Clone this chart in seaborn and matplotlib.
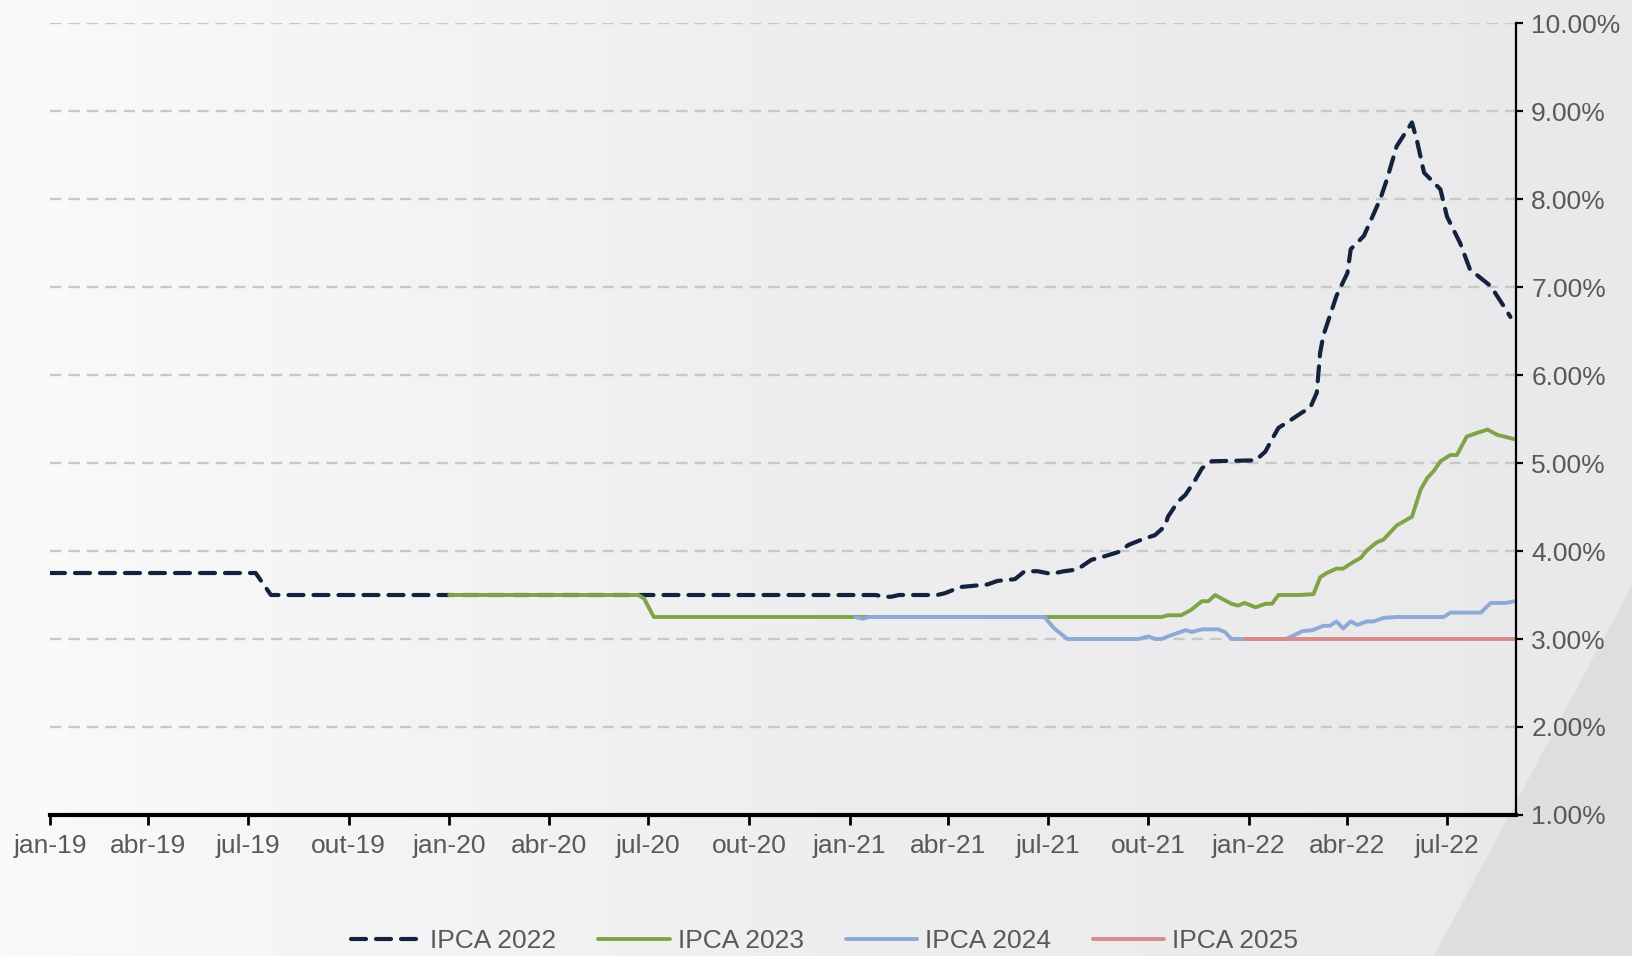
import matplotlib
matplotlib.use("Agg")
import matplotlib.pyplot as plt
from matplotlib.colors import LinearSegmentedColormap
from matplotlib.patches import Polygon
import numpy as np
import pandas as pd
import seaborn as sns

# expectativas Focus (mediana), leitura aproximada do grafico
dates_2022 = ["2019-01-01", "2019-07-08", "2019-07-22", "2021-01-25", "2021-02-01", "2021-02-08",
              "2021-02-15", "2021-03-22", "2021-03-29", "2021-04-12", "2021-05-07", "2021-05-16",
              "2021-06-01", "2021-06-10", "2021-06-22", "2021-07-04", "2021-07-16", "2021-07-28",
              "2021-08-10", "2021-08-22", "2021-09-04", "2021-09-13", "2021-09-25", "2021-10-07",
              "2021-10-16", "2021-10-19", "2021-10-28", "2021-11-04", "2021-11-13", "2021-11-19",
              "2021-11-28", "2022-01-07", "2022-01-16", "2022-01-22", "2022-01-28", "2022-02-06",
              "2022-02-18", "2022-02-26", "2022-03-04", "2022-03-07", "2022-03-10", "2022-03-22",
              "2022-04-01", "2022-04-04", "2022-04-16", "2022-05-01", "2022-05-07", "2022-05-16",
              "2022-05-30", "2022-06-04", "2022-06-10", "2022-06-25", "2022-07-01", "2022-07-13",
              "2022-07-22", "2022-08-10", "2022-08-22", "2022-08-28"]
ipca_2022 = [3.75, 3.75, 3.50, 3.50, 3.48, 3.48,
             3.50, 3.50, 3.52, 3.59, 3.62, 3.66,
             3.68, 3.77, 3.77, 3.74, 3.77, 3.79,
             3.90, 3.94, 3.99, 4.07, 4.13, 4.18,
             4.28, 4.39, 4.56, 4.64, 4.81, 4.94,
             5.02, 5.03, 5.13, 5.27, 5.40, 5.47,
             5.57, 5.63, 5.80, 6.25, 6.45, 6.90,
             7.16, 7.43, 7.58, 8.00, 8.22, 8.60,
             8.87, 8.64, 8.30, 8.11, 7.80, 7.50,
             7.20, 7.01, 6.78, 6.66]

dates_2023 = ["2020-01-01", "2020-06-22", "2020-06-27", "2020-07-06", "2021-10-13", "2021-10-19",
              "2021-10-31", "2021-11-09", "2021-11-19", "2021-11-25", "2021-12-01", "2021-12-07",
              "2021-12-16", "2021-12-22", "2021-12-28", "2022-01-07", "2022-01-16", "2022-01-22",
              "2022-01-28", "2022-02-16", "2022-03-01", "2022-03-07", "2022-03-13", "2022-03-22",
              "2022-03-28", "2022-04-07", "2022-04-13", "2022-04-19", "2022-04-28", "2022-05-04",
              "2022-05-16", "2022-05-30", "2022-06-07", "2022-06-13", "2022-06-19", "2022-06-25",
              "2022-07-04", "2022-07-10", "2022-07-19", "2022-07-28", "2022-08-07", "2022-08-16",
              "2022-09-01"]
ipca_2023 = [3.50, 3.50, 3.46, 3.25, 3.25, 3.27,
             3.27, 3.33, 3.43, 3.43, 3.50, 3.46,
             3.40, 3.38, 3.41, 3.36, 3.40, 3.40,
             3.50, 3.50, 3.51, 3.70, 3.75, 3.80,
             3.80, 3.88, 3.92, 4.01, 4.10, 4.13,
             4.29, 4.39, 4.70, 4.83, 4.91, 5.02,
             5.09, 5.09, 5.30, 5.34, 5.38, 5.32,
             5.27]

dates_2024 = ["2021-01-06", "2021-01-13", "2021-01-19", "2021-06-28", "2021-07-07", "2021-07-19",
              "2021-09-22", "2021-10-01", "2021-10-07", "2021-10-13", "2021-10-19", "2021-11-04",
              "2021-11-10", "2021-11-19", "2021-12-04", "2021-12-10", "2021-12-16", "2022-02-04",
              "2022-02-19", "2022-02-28", "2022-03-10", "2022-03-16", "2022-03-22", "2022-03-28",
              "2022-04-04", "2022-04-10", "2022-04-19", "2022-04-25", "2022-05-04", "2022-05-16",
              "2022-06-28", "2022-07-04", "2022-08-01", "2022-08-10", "2022-08-24", "2022-09-01"]
ipca_2024 = [3.25, 3.23, 3.25, 3.25, 3.12, 3.00,
             3.00, 3.03, 3.00, 3.00, 3.03, 3.10,
             3.08, 3.11, 3.11, 3.08, 3.00, 3.00,
             3.09, 3.10, 3.15, 3.15, 3.20, 3.12,
             3.20, 3.16, 3.20, 3.20, 3.24, 3.25,
             3.25, 3.30, 3.30, 3.41, 3.41, 3.43]

dates_2025 = ["2021-12-28", "2022-09-01"]
ipca_2025 = [3.00, 3.00]

series = [
    ("IPCA 2022", dates_2022, ipca_2022, "#13233D", (0, (3.6, 2.4)), 3.0),
    ("IPCA 2023", dates_2023, ipca_2023, "#7FA447", "-", 2.8),
    ("IPCA 2024", dates_2024, ipca_2024, "#8EA9D5", "-", 2.8),
    ("IPCA 2025", dates_2025, ipca_2025, "#D98A8A", "-", 2.8),
]

meses = {1: "jan", 4: "abr", 7: "jul", 10: "out"}
tick_dates = pd.date_range("2019-01-01", "2022-07-01", freq="QS")
tick_labels = [f"{meses[d.month]}-{d.strftime('%y')}" for d in tick_dates]
y_ticks = list(range(1, 11))

sns.set_theme(style="white")
plt.rcParams["font.family"] = ["Liberation Sans", "DejaVu Sans"]

fig = plt.figure(figsize=(16.33, 9.56), dpi=100)

# fundo em degrade com faixa diagonal no canto
bg = fig.add_axes([0, 0, 1, 1], zorder=0)
cmap = LinearSegmentedColormap.from_list("bg", ["#FAFAFB", "#EEEEF0", "#E9E9EB"])
bg.imshow(np.linspace(0, 1, 256).reshape(1, -1), aspect="auto", cmap=cmap,
          extent=[0, 1, 0, 1], transform=bg.transAxes)
bg.add_patch(Polygon([[0.878, 0], [1, 0], [1, 0.39]], closed=True,
                     facecolor="#DEDEE1", edgecolor="none", transform=bg.transAxes))
bg.set_xlim(0, 1)
bg.set_ylim(0, 1)
bg.axis("off")

ax = fig.add_axes([0.0306, 0.1475, 0.8977, 0.8284], zorder=1)
ax.patch.set_alpha(0)

for label, dates, values, color, ls, lw in series:
    sns.lineplot(x=pd.to_datetime(dates), y=values, ax=ax, color=color, linestyle=ls,
                 linewidth=lw, label=label, estimator=None, dash_capstyle="round")

ax.set_xlim(pd.Timestamp("2019-01-01"), pd.Timestamp("2022-09-02"))
ax.set_ylim(1, 10)
ax.set_xticks(tick_dates)
ax.set_xticklabels(tick_labels)
ax.set_yticks(y_ticks)
ax.set_yticklabels([f"{v:.2f}%" for v in y_ticks])
ax.yaxis.tick_right()
ax.set_xlabel("")
ax.set_ylabel("")

ax.grid(axis="y", color="#C8C8C8", linestyle=(0, (4.8, 3.0)), linewidth=1.7)
ax.grid(axis="x", visible=False)
ax.set_axisbelow(True)

for side in ["left", "top"]:
    ax.spines[side].set_visible(False)
ax.spines["right"].set_color("black")
ax.spines["right"].set_linewidth(1.6)
ax.spines["bottom"].set_color("black")
ax.spines["bottom"].set_linewidth(3)

ax.tick_params(axis="x", bottom=True, direction="out", length=7, width=2, color="black",
               pad=7, labelsize=19, labelcolor="#595959")
ax.tick_params(axis="y", right=True, left=False, direction="out", length=5, width=1.6,
               color="black", pad=6, labelsize=19, labelcolor="#595959")

handles, labels = ax.get_legend_handles_labels()
ax.get_legend().remove()
fig.legend(handles, labels, loc="center", bbox_to_anchor=(0.505, 1 - 941 / 956), ncol=4,
           frameon=False, fontsize=19, handlelength=2.7, handletextpad=0.3,
           columnspacing=1.6, labelcolor="#595959")

fig.savefig("out.png", dpi=100)
